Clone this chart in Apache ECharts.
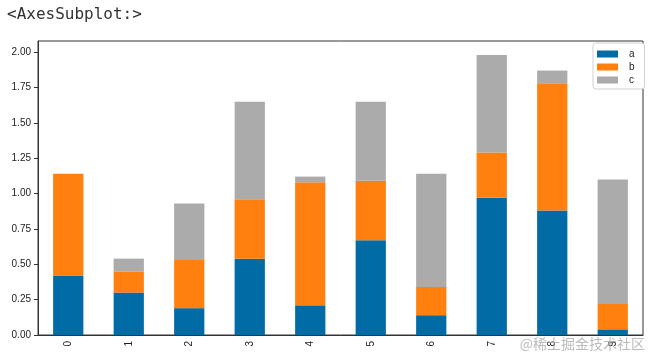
<!DOCTYPE html>
<html>
<head>
<meta charset="utf-8">
<script src="https://cdn.jsdelivr.net/npm/echarts@6/dist/echarts.min.js"></script>
<style>html,body{margin:0;padding:0;background:#fff;}#c{width:656px;height:362px;}</style>
</head>
<body>
<div id="c"></div>
<script>
const categories = ['0','1','2','3','4','5','6','7','8','9'];
const seriesA = [0.42, 0.30, 0.19, 0.54, 0.21, 0.67, 0.14, 0.97, 0.88, 0.04];
const seriesB = [0.72, 0.15, 0.34, 0.42, 0.87, 0.42, 0.20, 0.32, 0.90, 0.18];
const seriesC = [0.00, 0.09, 0.40, 0.69, 0.04, 0.56, 0.80, 0.69, 0.09, 0.88];
const yTicks = [0, 0.25, 0.5, 0.75, 1.0, 1.25, 1.5, 1.75, 2.0];
const colors = ['#006BA4', '#FF800E', '#ABABAB'];

const chart = echarts.init(document.getElementById('c'), null, {renderer: 'canvas'});
const barStyle = (name, data, color) => ({
  name: name, type: 'bar', stack: 'total', data: data, barWidth: '50%',
  itemStyle: {color: color}, emphasis: {disabled: true}
});
chart.setOption({
  animation: false,
  color: colors,
  grid: {left: 38, right: 13, top: 41, bottom: 27, show: true, borderColor: '#333', borderWidth: 1, backgroundColor: 'transparent', containLabel: false},
  legend: {
    orient: 'vertical', left: 593, top: 43,
    data: ['a', 'b', 'c'],
    itemWidth: 21, itemHeight: 7, itemGap: 3,
    padding: [6, 10, 4, 4],
    backgroundColor: '#fff', borderColor: '#d0d0d0', borderWidth: 1, borderRadius: 3,
    textStyle: {fontSize: 10, color: '#222', fontFamily: 'Liberation Sans', padding: [0, 0, 0, 6]},
    icon: 'rect'
  },
  xAxis: {
    type: 'category', data: categories, boundaryGap: true,
    axisLine: {lineStyle: {color: '#333'}},
    axisTick: {alignWithLabel: true, length: 4, lineStyle: {color: '#333'}},
    axisLabel: {rotate: 90, fontSize: 10, color: '#222', margin: 6, fontFamily: 'Liberation Sans'}
  },
  yAxis: {
    type: 'value', min: 0, max: 2.079,
    splitLine: {show: false},
    axisLine: {show: true, lineStyle: {color: '#333'}},
    axisTick: {show: true, length: 4, lineStyle: {color: '#333'}, customValues: yTicks},
    axisLabel: {fontSize: 10, color: '#222', margin: 7, fontFamily: 'Liberation Sans', customValues: yTicks,
      formatter: v => v.toFixed(2)}
  },
  graphic: [
    {type: 'text', left: 7, top: 7, style: {text: '<AxesSubplot:>', font: '16px "DejaVu Sans Mono"', fill: '#333'}},
    {type: 'text', right: 11, top: 337, z: 100, style: {text: '@稀土掘金技术社区', font: '14px "Noto Sans CJK SC"', fill: 'rgba(170,170,170,0.8)'}}
  ],
  series: [
    barStyle('a', seriesA, colors[0]),
    barStyle('b', seriesB, colors[1]),
    barStyle('c', seriesC, colors[2])
  ]
});
</script>
</body>
</html>
